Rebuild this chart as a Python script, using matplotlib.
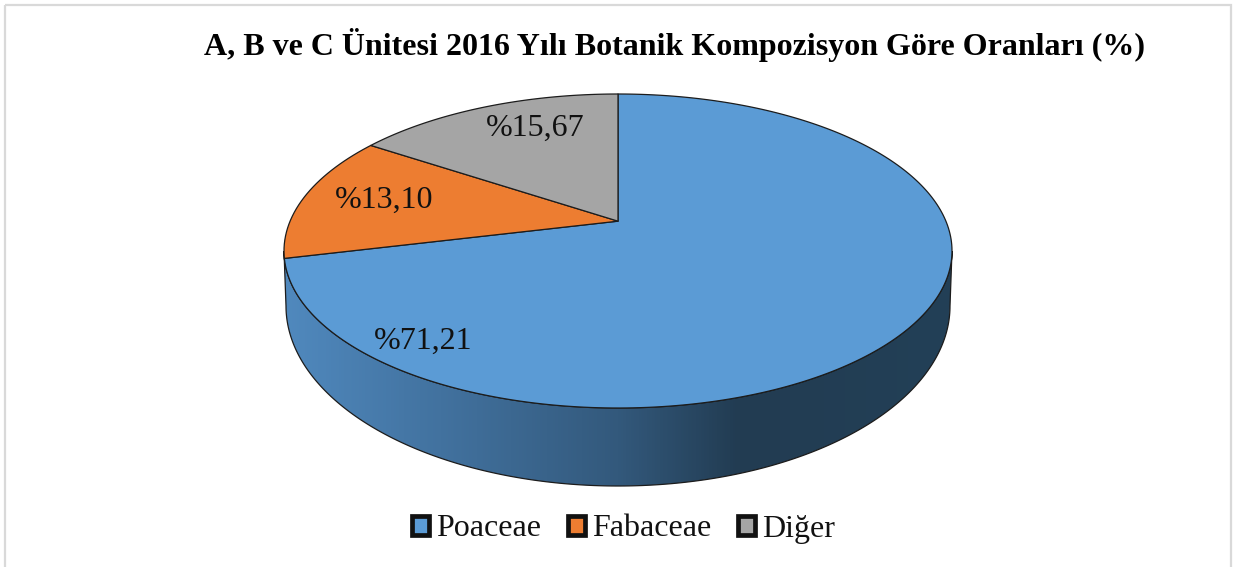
import numpy as np
import matplotlib
matplotlib.use("Agg")
import matplotlib.pyplot as plt
from matplotlib.patches import Polygon, Rectangle, Patch
from matplotlib.colors import LinearSegmentedColormap
from matplotlib.transforms import Affine2D

categories = ["Poaceae", "Fabaceae", "Diğer"]
values = [71.21, 13.10, 15.67]
value_labels = ["%71,21", "%13,10", "%15,67"]
title = "A, B ve C Ünitesi 2016 Yılı Botanik Kompozisyon Göre Oranları (%)"
colors = ["#5B9BD5", "#ED7D31", "#A5A5A5"]

W, H = 1238, 567
CX, CY, RX, RY = 618.0, 251.0, 334.0, 157.0   # top ellipse
LOW_CY, LOW_RX, LOW_RY = 306.0, 332.0, 180.0  # bottom rim
K = 0.19                                       # perspective of the apex
EDGE = "#1c1c1c"

plt.rcParams["font.family"] = ["Liberation Serif", "DejaVu Serif"]
fig = plt.figure(figsize=(W / 100, H / 100), dpi=100, facecolor="white")
ax = fig.add_axes([0, 0, 1, 1])


def project(pts):
    """Perspective map of the unit-circle pie onto the tilted top ellipse."""
    x, y = pts[:, 0], pts[:, 1]
    d = 1 + K * y
    X = np.sqrt(1 - K ** 2) * x / d
    Y = (y + K) / d
    return np.column_stack([CX + RX * X, CY - RY * Y])


wedges, _ = ax.pie(values, startangle=90, counterclock=False, colors=colors, radius=1)
ax.set_aspect("auto")
ax.set_axis_off()

# side wall with gradient, clipped to the rim outline
t = np.linspace(np.pi, 2 * np.pi, 240)
upper = np.column_stack([CX + RX * np.cos(t), CY - RY * np.sin(t)])
lower = np.column_stack([CX + LOW_RX * np.cos(t), LOW_CY - LOW_RY * np.sin(t)])
wall_xy = np.vstack([upper, lower[::-1]])
wall = Polygon(wall_xy, closed=True, facecolor="none", edgecolor=EDGE, lw=0.9, zorder=2)
ax.add_patch(wall)
cmap = LinearSegmentedColormap.from_list(
    "wall",
    [(0.0, "#5089BE"), (0.18, "#4577A6"), (0.50, "#33597C"),
     (0.68, "#223C52"), (1.0, "#234057")],
)
im = ax.imshow(
    np.linspace(0, 1, 512)[None, :], cmap=cmap, aspect="auto",
    extent=(CX - RX, CX + RX, LOW_CY + LOW_RY, CY), zorder=1.5,
)
im.set_clip_path(wall)
ax.set_xlim(0, W)
ax.set_ylim(H, 0)

# top face
for w, c in zip(wedges, colors):
    path = w.get_patch_transform().transform_path(w.get_path())
    scaled = Affine2D().scale(2000).transform_path(path)
    polys = scaled.to_polygons(closed_only=True)
    verts = project(polys[0] / 2000)
    w.remove()
    ax.add_patch(Polygon(verts, closed=True, facecolor=c, edgecolor=EDGE,
                         lw=0.9, joinstyle="round", zorder=3))

# data labels
label_pos = [(423, 341), (384, 200), (535, 128)]
for s, (x, y) in zip(value_labels, label_pos):
    ax.text(x, y, s, ha="center", va="center", fontsize=23, color="#111111", zorder=5)

ax.text(675, 45, title, ha="center", va="center", fontsize=23,
        fontweight="bold", color="black")

# chart frame
ax.add_patch(Rectangle((5, 5), 1226, 590, facecolor="none", edgecolor="#D9D9D9",
                       lw=1.6, zorder=0.5, clip_on=True))

handles = [Patch(facecolor=c, edgecolor="#111111", lw=3.4, joinstyle="round", label=n)
           for c, n in zip(colors, categories)]
ax.legend(handles=handles, ncol=3, loc="center", bbox_to_anchor=(623.5 / W, 1 - 529 / H),
          frameon=False, fontsize=23, handlelength=0.54, handleheight=0.54,
          handletextpad=0.22, columnspacing=0.84, borderpad=0, labelcolor="#111111")

fig.savefig("out.png", dpi=100)
